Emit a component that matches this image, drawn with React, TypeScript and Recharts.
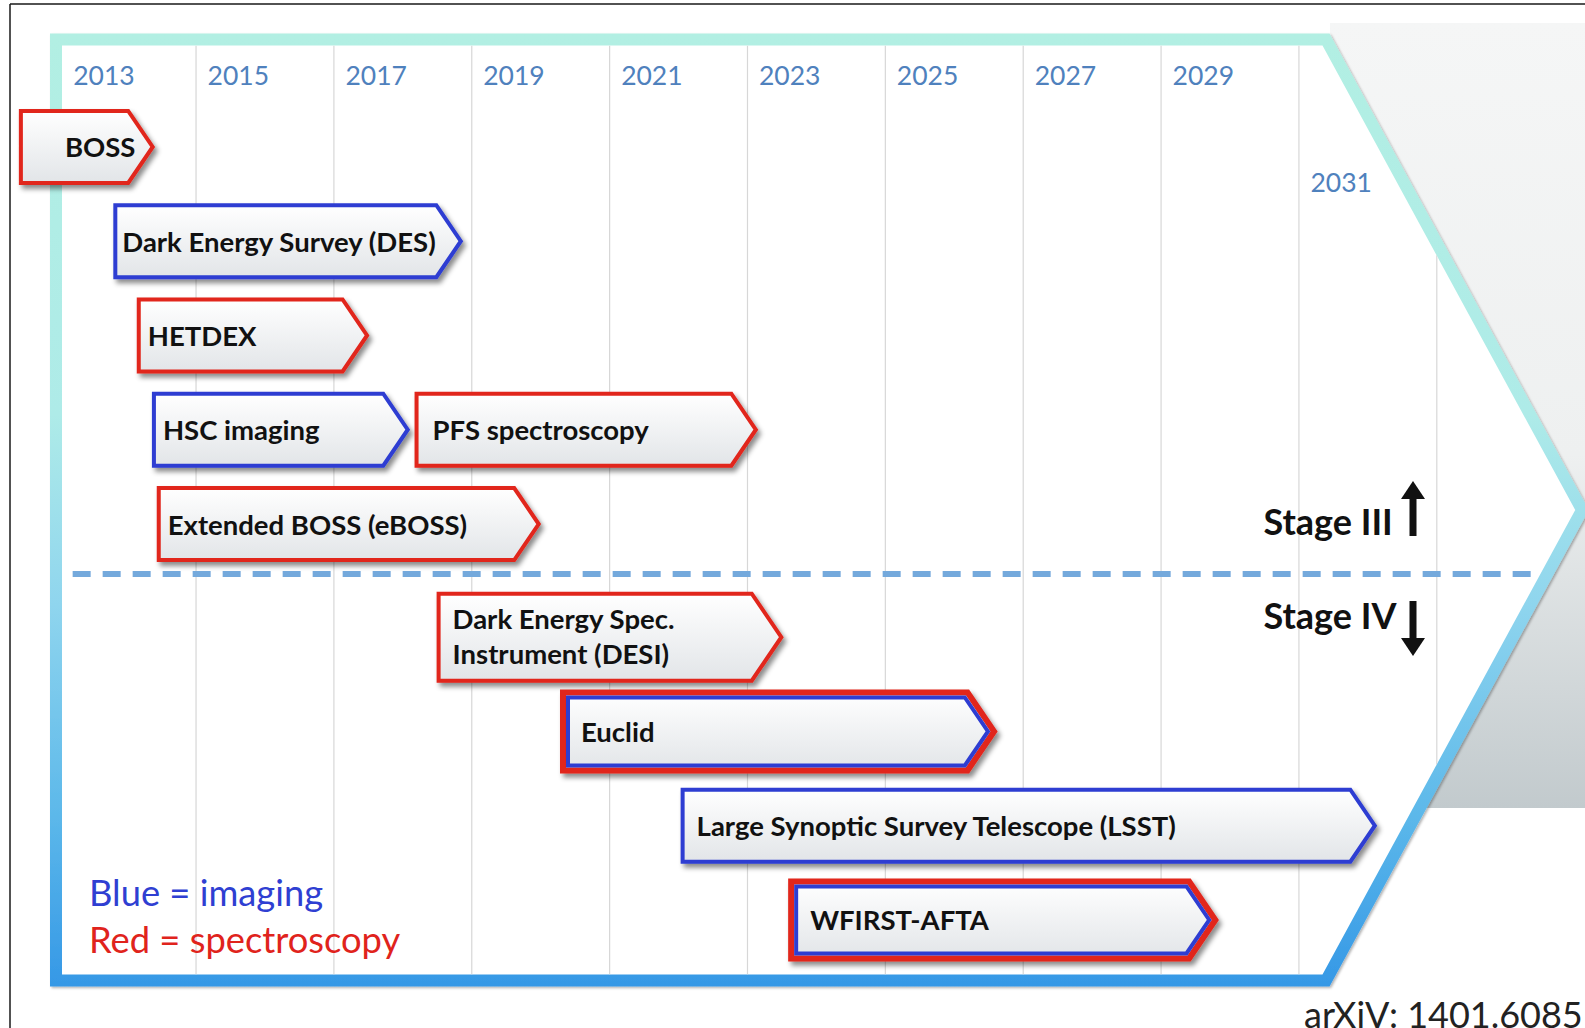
import React from 'react';
import { ComposedChart, Bar, XAxis, YAxis, CartesianGrid, ReferenceLine } from 'recharts';

// ---------------- data ----------------
const SURVEY_IDS = ['BOSS', 'DES', 'HETDEX', 'HSC', 'PFS', 'eBOSS', 'DESI', 'Euclid', 'LSST', 'WFIRST'];
const SURVEY_LABELS = [
  ['BOSS'],
  ['Dark Energy Survey (DES)'],
  ['HETDEX'],
  ['HSC imaging'],
  ['PFS spectroscopy'],
  ['Extended BOSS (eBOSS)'],
  ['Dark Energy Spec.', 'Instrument (DESI)'],
  ['Euclid'],
  ['Large Synoptic Survey Telescope (LSST)'],
  ['WFIRST-AFTA'],
];
const START_YEARS = [2012.43, 2013.8, 2014.14, 2014.36, 2018.17, 2014.43, 2018.49, 2020.28, 2022.03, 2023.59];
const END_YEARS = [2014.4, 2018.87, 2017.51, 2018.1, 2023.15, 2020.0, 2023.52, 2026.62, 2032.13, 2029.83];
const LANES = [0, 1, 2, 3, 3, 4, 5.2, 6.2, 7.2, 8.2];
const TECHNIQUES = ['spectroscopy', 'imaging', 'spectroscopy', 'imaging', 'spectroscopy', 'spectroscopy', 'spectroscopy', 'both', 'imaging', 'both'];
const YEAR_TICKS = [2013, 2015, 2017, 2019, 2021, 2023, 2025, 2027, 2029, 2031, 2033];
const YEAR_LABELS = ['2013', '2015', '2017', '2019', '2021', '2023', '2025', '2027', '2029', '2031', ''];
const STAGE_DIVIDER = 4.53;
const DIVIDER_FROM = 2013.21;
const DIVIDER_TO = 2034.37;

const rows = SURVEY_IDS.map((id, i) => ({
  id,
  lines: SURVEY_LABELS[i],
  span: [START_YEARS[i], END_YEARS[i]],
  lane: LANES[i],
  technique: TECHNIQUES[i],
}));

// ---------------- styles ----------------
const W = 1585;
const H = 1028;
const RED = '#e1251b';
const BLUE = '#2d3ed2';
const YEAR_BLUE = '#4f81bd';
const BAR_HEIGHT: Record<string, number> = { DESI: 87, Euclid: 78, WFIRST: 77 };
const LABEL_PAD: Record<string, number> = {
  BOSS: 46, DES: 9, HETDEX: 11, HSC: 11, PFS: 18, eBOSS: 11, DESI: 16, Euclid: 21, LSST: 16, WFIRST: 22,
};
const YEAR_PAD: Record<number, number> = { 2013: 15 };
const FONT = 'Lato, "Open Sans", sans-serif';

const CHEVRON = '56,39.5 1326,39.5 1582,510 1326,980.5 56,980.5';
const CHEVRON_INNER = '62,45.5 1322.4,45.5 1575.2,510 1322.4,974.5 62,974.5';

function pentagon(x: number, top: number, right: number, bot: number, tip: number) {
  const cy = (top + bot) / 2;
  return `${x},${top} ${right - tip},${top} ${right},${cy} ${right - tip},${bot} ${x},${bot}`;
}

function SurveyArrow(props: any) {
  const { x, y, width, height } = props;
  const p = props.payload ?? props;
  const id: string = p.id;
  const h = BAR_HEIGHT[id] ?? height;
  const cy = y + height / 2;
  const both = p.technique === 'both';
  const sw = both ? 6 : 4;
  const left = x + sw / 2;
  const right = x + width - sw / 2;
  const top = cy - h / 2;
  const bot = cy + h / 2;
  const tip = h * 0.34;
  const outer = pentagon(left, top, right, bot, tip);
  let inner: string | null = null;
  if (both) {
    const d = 5;
    const half = h / 2;
    const L = Math.sqrt(tip * tip + half * half);
    const s = (d * L) / half;
    const tipX = right - s;
    const shoulder = tipX - ((half - d) * tip) / half;
    inner = `${left + d},${top + d} ${shoulder},${top + d} ${tipX},${cy} ${shoulder},${bot - d} ${left + d},${bot - d}`;
  }
  const stroke = p.technique === 'imaging' ? BLUE : RED;
  const lines: string[] = p.lines;
  const tx = x + LABEL_PAD[id];
  return (
    <g>
      <g filter="url(#arrowShadow)">
        <polygon points={outer} fill="url(#arrowFill)" stroke={stroke} strokeWidth={sw} strokeLinejoin="miter" />
        {inner && <polygon points={inner} fill="none" stroke={BLUE} strokeWidth={4} strokeLinejoin="miter" />}
      </g>
      {lines.map((ln, k) => (
        <text
          key={k}
          x={tx}
          y={lines.length === 1 ? cy : cy - 1.5 + (k - 0.5) * 35}
          dominantBaseline="central"
          fontFamily={FONT}
          fontWeight={700}
          fontSize={27.5}
          fill="#111"
        >
          {ln}
        </text>
      ))}
    </g>
  );
}

function YearTick(props: any) {
  const { x, payload } = props;
  const idx = YEAR_TICKS.indexOf(payload.value);
  const label = YEAR_LABELS[idx] ?? '';
  const late = payload.value === 2031;
  const pad = YEAR_PAD[payload.value] ?? 11.5;
  return (
    <text x={x + pad} y={late ? 192 : 85} fill={YEAR_BLUE} fontFamily={FONT} fontSize={26.5}>
      {label}
    </text>
  );
}

export default function App() {
  return (
    <div style={{ position: 'absolute', left: 0, top: 0, width: W, height: H, background: '#fff', overflow: 'hidden' }}>
      <style>{`.recharts-cartesian-grid { clip-path: url(#chevInner); }`}</style>
      <svg width={W} height={H} style={{ position: 'absolute', left: 0, top: 0 }}>
        <defs>
          <linearGradient id="arrowFill" x1="0" y1="0" x2="0" y2="1">
            <stop offset="0" stopColor="#ffffff" />
            <stop offset="1" stopColor="#e2e5e8" />
          </linearGradient>
          <linearGradient id="grayGrad" x1="0" y1="0" x2="0" y2="1">
            <stop offset="0" stopColor="#f5f6f6" />
            <stop offset="0.55" stopColor="#eef0f0" />
            <stop offset="1" stopColor="#c2cacd" />
          </linearGradient>
          <linearGradient id="bandGrad" gradientUnits="userSpaceOnUse" x1="0" y1="33" x2="0" y2="987">
            <stop offset="0" stopColor="#b2efe3" />
            <stop offset="0.4" stopColor="#aeebe8" />
            <stop offset="0.6" stopColor="#8fd5ee" />
            <stop offset="0.82" stopColor="#5cb8ea" />
            <stop offset="1" stopColor="#3598e6" />
          </linearGradient>
          <filter id="arrowShadow" x="-10%" y="-25%" width="125%" height="160%">
            <feDropShadow dx="3" dy="4" stdDeviation="2.5" floodColor="#000" floodOpacity="0.45" />
          </filter>
          <filter id="bandShadow" x="-5%" y="-5%" width="110%" height="110%">
            <feDropShadow dx="1.5" dy="1.5" stdDeviation="1.2" floodColor="#000" floodOpacity="0.3" />
          </filter>
          <clipPath id="chevInner">
            <polygon points={CHEVRON_INNER} />
          </clipPath>
        </defs>
        <path d="M10,4 H1585 M10,4 V1028" stroke="#1a1a1a" strokeWidth={1.5} fill="none" />
        <rect x={1330} y={23} width={255} height={785} fill="url(#grayGrad)" />
        <polygon points={CHEVRON} fill="#ffffff" stroke="url(#bandGrad)" strokeWidth={12} strokeLinejoin="miter" filter="url(#bandShadow)" />
      </svg>
      <div style={{ position: 'absolute', left: 0, top: 0 }}>
        <ComposedChart
          layout="vertical"
          width={W}
          height={H}
          data={rows}
          margin={{ top: 5.5, right: 0, bottom: 53.5, left: 0 }}
        >
          <CartesianGrid horizontal={false} stroke="#d7d7d7" strokeWidth={1.2} />
          <XAxis
            type="number"
            orientation="top"
            domain={[2012.156, 2035.15]}
            allowDataOverflow
            ticks={YEAR_TICKS}
            interval={0}
            axisLine={false}
            tickLine={false}
            height={40}
            tick={(p: any) => <YearTick {...p} />}
          />
          <YAxis type="number" dataKey="lane" domain={[-1.077, 8.777]} allowDataOverflow hide />
          <ReferenceLine
            segment={[
              { x: DIVIDER_FROM, y: STAGE_DIVIDER },
              { x: DIVIDER_TO, y: STAGE_DIVIDER },
            ]}
            stroke="#74a9dc"
            strokeWidth={6}
            strokeDasharray="18 12"
          />
          <Bar dataKey="span" barSize={72} shape={(p: any) => <SurveyArrow {...p} />} isAnimationActive={false} />
        </ComposedChart>
      </div>
      <svg width={W} height={H} style={{ position: 'absolute', left: 0, top: 0, pointerEvents: 'none' }}>
        <text x={1263.5} y={535} fontFamily={FONT} fontWeight={700} fontSize={36} fill="#111">Stage III</text>
        <rect x={1409.5} y={492} width={7} height={44} fill="#111" />
        <polygon points="1401,499 1425,499 1413,481" fill="#111" />
        <text x={1263.5} y={629} fontFamily={FONT} fontWeight={700} fontSize={36} fill="#111">Stage IV</text>
        <rect x={1409.5} y={601} width={7} height={42} fill="#111" />
        <polygon points="1401,638 1425,638 1413,656" fill="#111" />
        <text x={89} y={906} fontFamily={FONT} fontSize={36.3} fill="#2f3fd2">Blue = imaging</text>
        <text x={89} y={953} fontFamily={FONT} fontSize={36.3} fill="#e0231c">Red = spectroscopy</text>
        <text x={1304} y={1028} fontFamily={FONT} fontSize={36} fill="#222">arXiV: 1401.6085</text>
      </svg>
    </div>
  );
}
